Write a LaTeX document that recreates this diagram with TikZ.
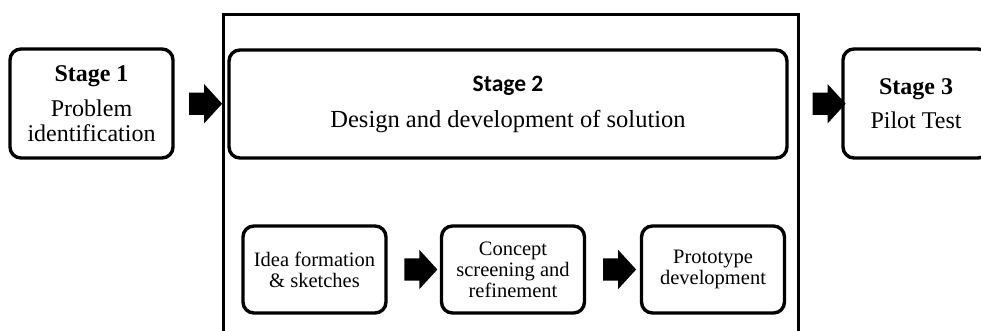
\documentclass[tikz,border=0pt]{standalone}
\usepackage{fontspec}
\setmainfont{Liberation Serif}
\newfontfamily\calibrifont{Carlito}
\usetikzlibrary{shapes.arrows,calc}
\begin{document}
\begin{tikzpicture}[x=1pt,y=1pt,
  stagebox/.style={draw, line width=3.4pt, rounded corners=11pt, align=center, inner sep=0pt},
  subbox/.style={stagebox, minimum width=143pt, minimum height=87pt,
    font=\fontsize{20.5}{21}\selectfont},
  blockarrow/.style={single arrow, fill=black, draw=none, inner xsep=0pt, inner ysep=11pt,
    minimum height=33pt, single arrow head extend=8.5pt, single arrow tip angle=95,
    anchor=center}
]
\useasboundingbox (0,0) rectangle (981,331);
\begin{scope}
\clip (0,0) rectangle (981,331);
% outer frame
\node[draw, line width=3pt, minimum width=575pt, minimum height=340pt, anchor=north west, inner sep=0pt]
  (frame) at (222,318) {};
% top stages
\node[stagebox, minimum width=163pt, minimum height=109pt,
  font=\fontsize{24}{25}\selectfont] (s1) at (91.5,227.5)
  {\textbf{Stage 1}\\[10pt]Problem\\identification};
\node[stagebox, minimum width=558pt, minimum height=108pt,
  font=\fontsize{24.5}{26}\selectfont] (s2) at (508,227)
  {{\calibrifont\bfseries\fontsize{23.5}{26}\selectfont Stage 2}\\[10pt]Design and development of solution};
\node[stagebox, minimum width=146pt, minimum height=109pt,
  font=\fontsize{24}{26}\selectfont] (s3) at (916,227.5)
  {\textbf{Stage 3}\\[8pt]Pilot Test};
% sub steps
\node[subbox] (a) at (314.5,61.5) {Idea formation\\\& sketches};
\node[subbox] (b) at (513,61.5) {Concept\\screening and\\refinement};
\node[subbox] (c) at (713,61.5) {Prototype\\development};
% block arrows
\node[blockarrow] (ar1) at ([xshift=-0.5pt]$(s1.east)!0.5!(s2.west)$) {};
\node[blockarrow] (ar2) at ([xshift=9pt]$(s2.east)!0.5!(s3.west)$) {};
\node[blockarrow] (ar3) at ([xshift=2pt]$(a.east)!0.5!(b.west)$) {};
\node[blockarrow] (ar4) at ([xshift=1.5pt]$(b.east)!0.5!(c.west)$) {};
\end{scope}
\end{tikzpicture}
\end{document}
